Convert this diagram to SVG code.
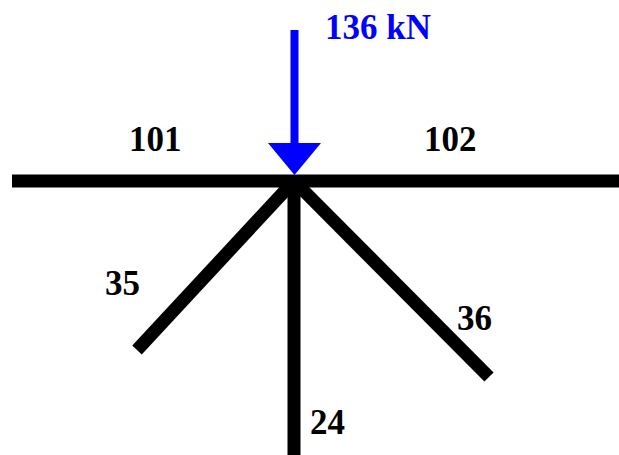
<svg xmlns="http://www.w3.org/2000/svg" width="619" height="455" viewBox="0 0 619 455">
<style>
.m{stroke:#000;stroke-width:13;fill:none}
.t{font-family:"Liberation Serif",serif;font-weight:bold;font-size:35px;fill:#000}
</style>
<rect width="619" height="455" fill="#fff"/>
<g id="connectors">
<line class="m" x1="12" y1="181" x2="619" y2="181"/>
<line class="m" x1="294" y1="181" x2="294" y2="455"/>
<line class="m" x1="294" y1="181" x2="137" y2="350"/>
<line class="m" x1="294" y1="181" x2="489" y2="377"/>
</g>
<g id="load">
<line x1="294.5" y1="30" x2="294.5" y2="150" stroke="#0000ff" stroke-width="8"/>
<polygon points="268,143 321,143 294.5,175" fill="#0000ff"/>
<text x="325" y="39" class="t" style="fill:#0000ff">136 kN</text>
</g>
<g id="m101"><text x="129" y="151" class="t">101</text></g>
<g id="m102"><text x="424" y="151" class="t">102</text></g>
<g id="m35"><text x="105" y="295" class="t">35</text></g>
<g id="m36"><text x="457" y="330" class="t">36</text></g>
<g id="m24"><text x="310" y="434" class="t">24</text></g>
</svg>
